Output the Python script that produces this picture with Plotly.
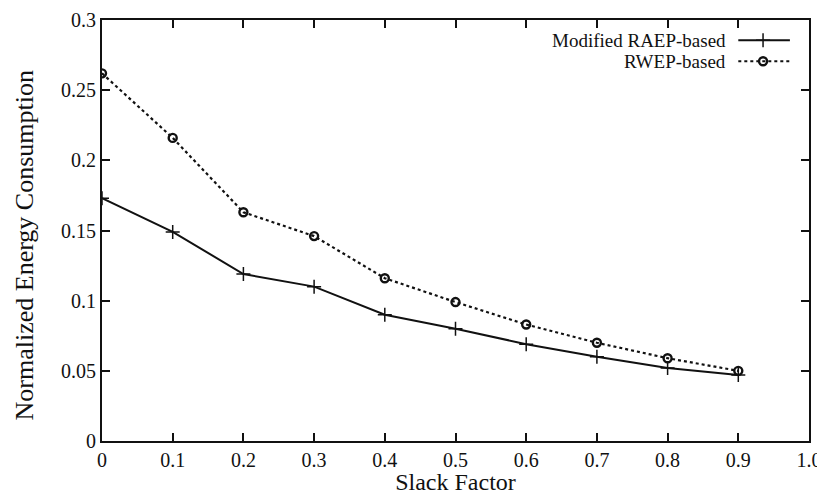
import plotly.graph_objects as go

slack = [0.0, 0.1, 0.2, 0.3, 0.4, 0.5, 0.6, 0.7, 0.8, 0.9]
modified_raep = [0.173, 0.149, 0.119, 0.110, 0.090, 0.080, 0.069, 0.060, 0.052, 0.047]
rwep = [0.262, 0.216, 0.163, 0.146, 0.116, 0.099, 0.083, 0.070, 0.059, 0.050]

x_ticks = [0, 0.1, 0.2, 0.3, 0.4, 0.5, 0.6, 0.7, 0.8, 0.9, 1.0]
x_ticktext = ["0", "0.1", "0.2", "0.3", "0.4", "0.5", "0.6", "0.7", "0.8", "0.9", "1.0"]
y_ticks = [0, 0.05, 0.1, 0.15, 0.2, 0.25, 0.3]
y_ticktext = ["0", "0.05", "0.1", "0.15", "0.2", "0.25", "0.3"]

legend_names = ["Modified RAEP-based", "RWEP-based"]
x_title = "Slack Factor"
y_title = "Normalized Energy Consumption"

FONT = "Liberation Serif, Times New Roman, serif"
INK = "#111"

fig = go.Figure()
fig.add_trace(go.Scatter(
    x=slack, y=modified_raep, mode="lines+markers", name=legend_names[0],
    line=dict(color=INK, width=2),
    marker=dict(symbol="cross-thin", size=10, color=INK, line=dict(color=INK, width=1.5)),
    showlegend=False,
))
fig.add_trace(go.Scatter(
    x=slack, y=rwep, mode="lines+markers", name=legend_names[1],
    line=dict(color=INK, width=2.2, dash="dot"),
    marker=dict(symbol="circle-open", size=8, color=INK, line=dict(color=INK, width=2.4)),
    showlegend=False,
))

# gnuplot-style key (text right-aligned, sample to its right) on an overlay axis
leg_y = [0.952, 0.902]
leg_x = [0.900, 0.973]
leg_mark_x = [0.935]
fig.add_trace(go.Scatter(
    x=leg_x, y=[leg_y[0]] * 2, xaxis="x2", yaxis="y2", mode="lines",
    line=dict(color=INK, width=2), showlegend=False, hoverinfo="skip"))
fig.add_trace(go.Scatter(
    x=leg_mark_x, y=[leg_y[0]], xaxis="x2", yaxis="y2", mode="markers",
    marker=dict(symbol="cross-thin", size=10, color=INK, line=dict(color=INK, width=1.5)),
    showlegend=False, hoverinfo="skip"))
fig.add_trace(go.Scatter(
    x=leg_x, y=[leg_y[1]] * 2, xaxis="x2", yaxis="y2", mode="lines",
    line=dict(color=INK, width=2.2, dash="dot"), showlegend=False, hoverinfo="skip"))
fig.add_trace(go.Scatter(
    x=leg_mark_x, y=[leg_y[1]], xaxis="x2", yaxis="y2", mode="markers",
    marker=dict(symbol="circle-open", size=8, color=INK, line=dict(color=INK, width=2.4)),
    showlegend=False, hoverinfo="skip"))

for name, yy in zip(legend_names, leg_y):
    fig.add_annotation(
        x=0.886, y=yy, xref="x2", yref="y2", text=name, showarrow=False,
        xanchor="right", yanchor="middle",
        font=dict(family=FONT, size=19, color=INK))

# y-axis title as a rotated annotation (placed slightly below the plot centre as in the reference)
fig.add_annotation(
    x=-0.110, y=0.465, xref="paper", yref="paper", text=y_title, showarrow=False,
    textangle=-90, xanchor="center", yanchor="middle",
    font=dict(family=FONT, size=26, color=INK))

axis_common = dict(
    ticks="inside", ticklen=8, tickwidth=1.5, tickcolor=INK,
    showline=True, linecolor=INK, linewidth=2, mirror="ticks",
    showgrid=False, zeroline=False, automargin=False,
    ticklabeloverflow="allow",
    tickfont=dict(family=FONT, size=20, color=INK),
)

fig.update_layout(
    width=817, height=487,
    margin=dict(l=94, r=16, t=12, b=54, autoexpand=False),
    paper_bgcolor="white", plot_bgcolor="white",
    font=dict(family=FONT, size=20, color=INK),
    xaxis=dict(
        range=[0, 1.0], tickvals=x_ticks, ticktext=x_ticktext,
        title=dict(text=x_title, font=dict(family=FONT, size=24, color=INK), standoff=0),
        **axis_common,
    ),
    yaxis=dict(
        range=[0, 0.3], tickvals=y_ticks, ticktext=y_ticktext,
        **axis_common,
    ),
    xaxis2=dict(range=[0, 1], overlaying="x", visible=False, fixedrange=True),
    yaxis2=dict(range=[0, 1], overlaying="y", visible=False, fixedrange=True),
    showlegend=False,
)

fig.write_html("out.html")
